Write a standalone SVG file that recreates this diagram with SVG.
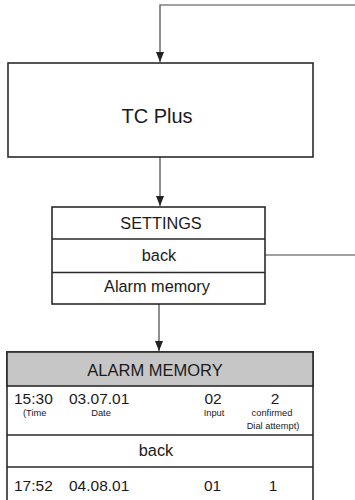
<svg xmlns="http://www.w3.org/2000/svg" width="355" height="500" viewBox="0 0 355 500">
<defs>
<marker id="ah" markerWidth="10" markerHeight="8" refX="10" refY="4" orient="auto" markerUnits="userSpaceOnUse" viewBox="0 0 10 8">
<path d="M0,0 L10,4 L0,8 Z" fill="#222"/>
</marker>
<style>
.box{fill:#fff;stroke:#2a2a2a;stroke-width:1.6}
.hdr{fill:#c6c6c6;stroke:#2a2a2a;stroke-width:1.6}
.div{stroke:#2a2a2a;stroke-width:1.6}
.con{fill:none;stroke:#444;stroke-width:1.2}
text{font-family:"Liberation Sans",Arial,sans-serif;fill:#1a1a1a}
.c{text-anchor:middle}
.s{font-size:9.3px}
.m{font-size:15.5px}
.t{font-size:16.3px}
</style>
</defs>
<g id="connectors">
<path class="con" d="M355,5 H160 V62" marker-end="url(#ah)"/>
<path class="con" d="M160,157 V206" marker-end="url(#ah)"/>
<path class="con" d="M265,255 H355"/>
<path class="con" d="M159,304 V351" marker-end="url(#ah)"/>
</g>
<g id="tcplus">
<rect class="box" x="8" y="63" width="305" height="94"/>
<text class="c" x="157" y="123" font-size="20">TC Plus</text>
</g>
<g id="settings">
<rect class="box" x="52" y="207" width="213" height="97"/>
<line class="div" x1="52" y1="239" x2="265" y2="239"/>
<line class="div" x1="52" y1="272.5" x2="265" y2="272.5"/>
<text class="c t" x="161" y="228.5">SETTINGS</text>
<text class="c t" x="159" y="261">back</text>
<text class="c t" x="157" y="292">Alarm memory</text>
</g>
<g id="alarm-memory">
<rect class="box" x="7" y="352" width="306" height="160"/>
<rect class="hdr" x="7" y="352" width="306" height="34"/>
<line class="div" x1="7" y1="435" x2="313" y2="435"/>
<line class="div" x1="7" y1="467" x2="313" y2="467"/>
<text class="c" x="155" y="376" font-size="16.5">ALARM MEMORY</text>
<text class="m" x="14" y="404">15:30</text>
<text class="m" x="69" y="404">03.07.01</text>
<text class="c m" x="213" y="404">02</text>
<text class="c m" x="275" y="404">2</text>
<text class="s" x="23" y="416">(Time</text>
<text class="c s" x="101" y="416">Date</text>
<text class="c s" x="214" y="416">Input</text>
<text class="c s" x="272" y="416">confirmed</text>
<text class="c s" x="273" y="429">Dial attempt)</text>
<text class="c t" x="156" y="456">back</text>
<text class="m" x="14" y="491">17:52</text>
<text class="m" x="69" y="491">04.08.01</text>
<text class="c m" x="212.5" y="491">01</text>
<text class="c m" x="273" y="491">1</text>
</g>
</svg>
